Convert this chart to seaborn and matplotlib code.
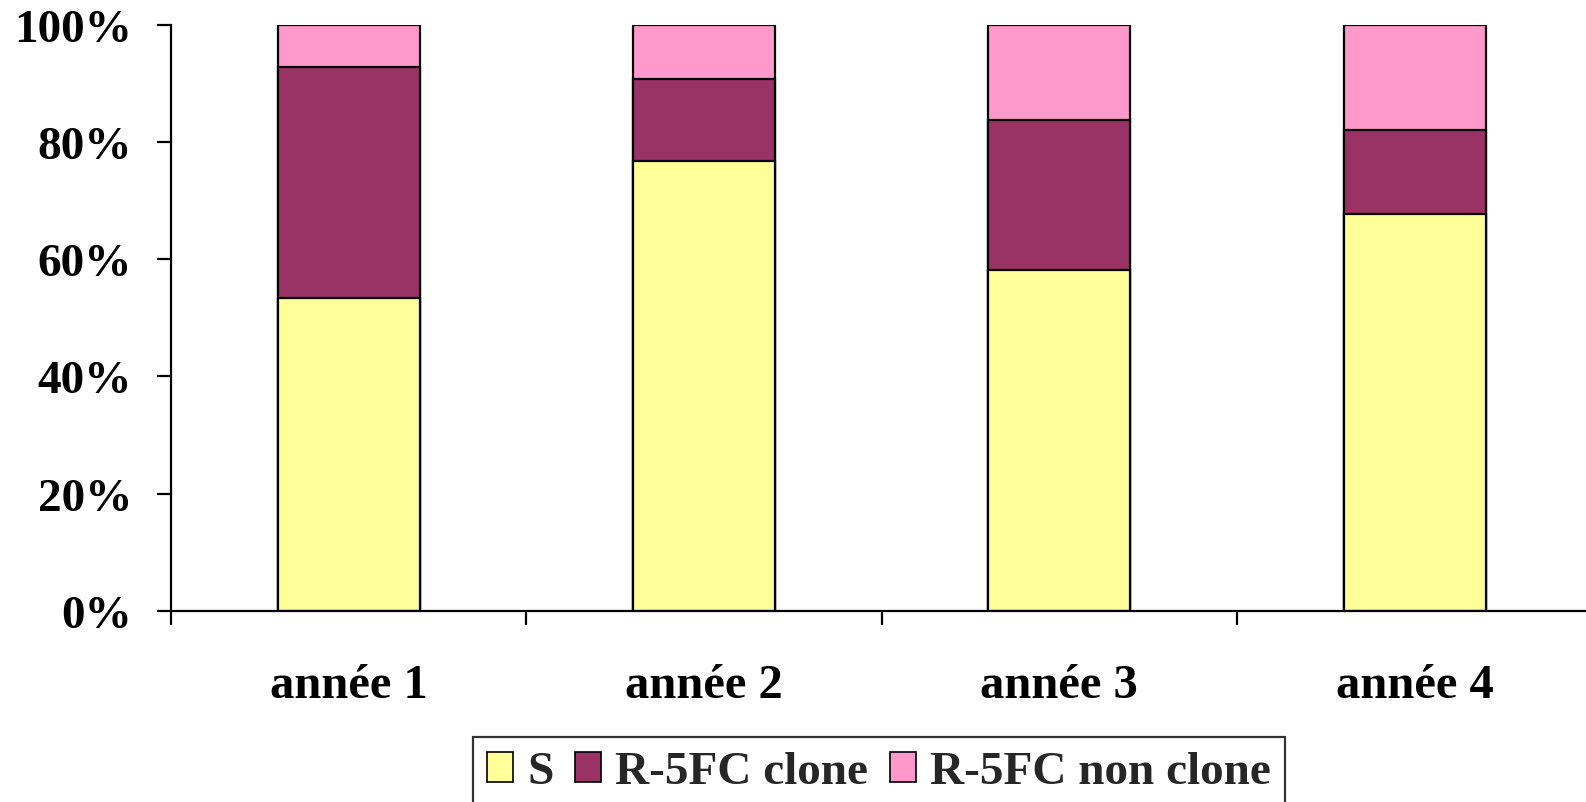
import matplotlib
matplotlib.use("Agg")
import matplotlib.pyplot as plt
from matplotlib.patches import Patch
from matplotlib.ticker import FixedLocator, PercentFormatter
import seaborn as sns
import pandas as pd
import numpy as np

categories = ["année 1", "année 2", "année 3", "année 4"]
s_share = [53.4, 76.7, 58.2, 67.8]
clone_share = [39.4, 14.0, 25.6, 14.3]
non_clone_share = [7.2, 9.3, 16.2, 17.9]

series_names = ["S", "R-5FC clone", "R-5FC non clone"]
series_colors = ["#FFFF99", "#993366", "#FF99CC"]

sns.set_theme(style="white")
plt.rcParams["font.family"] = ["Liberation Serif", "DejaVu Serif"]
plt.rcParams["font.weight"] = "bold"

df = pd.DataFrame({
    "annee": categories,
    "S": s_share,
    "R-5FC clone": clone_share,
    "R-5FC non clone": non_clone_share,
})
cum = df[series_names].cumsum(axis=1)

fig = plt.figure(figsize=(15.86, 8.03), dpi=100)
ax = fig.add_axes([171 / 1586, 1 - 611.7 / 803, 1.004 - 171 / 1586, (611.7 - 26) / 803])

# stacked bars: draw the cumulative totals from the top segment down
for name, color in reversed(list(zip(series_names, series_colors))):
    sns.barplot(data=cum.assign(annee=df["annee"]), x="annee", y=name,
                order=categories, color=color, width=0.4,
                edgecolor="black", linewidth=1.6, saturation=1, ax=ax)

ax.set_xlim(-0.5, 3.5)
ax.set_ylim(0, 100)
ax.set_xlabel("")
ax.set_ylabel("")
for side in ["top", "right"]:
    ax.spines[side].set_visible(False)
for side in ["left", "bottom"]:
    ax.spines[side].set_color("black")
    ax.spines[side].set_linewidth(1.6)

ax.yaxis.set_major_locator(FixedLocator([0, 20, 40, 60, 80, 100]))
ax.yaxis.set_major_formatter(PercentFormatter(decimals=0))
ax.tick_params(axis="y", direction="out", length=10, width=1.6, color="black",
               left=True, pad=18, labelsize=34)
ax.tick_params(axis="x", which="major", length=0, pad=38, labelsize=35)
ax.xaxis.set_minor_locator(FixedLocator(np.arange(-0.5, 3.6, 1.0)))
ax.tick_params(axis="x", which="minor", direction="out", length=10, width=1.6,
               color="black", bottom=True)
for lab in ax.get_xticklabels() + ax.get_yticklabels():
    lab.set_fontweight("bold")
    lab.set_color("black")

handles = [Patch(facecolor=c, edgecolor="black", linewidth=1.2, label=n)
           for n, c in zip(series_names, series_colors)]
leg = fig.legend(handles=handles, loc="upper center",
                 bbox_to_anchor=(879 / 1586, 1 - 738 / 803), ncol=3,
                 frameon=True, fancybox=False, edgecolor="black",
                 prop={"size": 34, "weight": "bold"},
                 handlelength=0.55, handleheight=0.6, handletextpad=0.3,
                 columnspacing=0.45, borderpad=0.3, borderaxespad=0)
leg.get_frame().set_linewidth(1.6)

fig.savefig("out.png", dpi=100)
